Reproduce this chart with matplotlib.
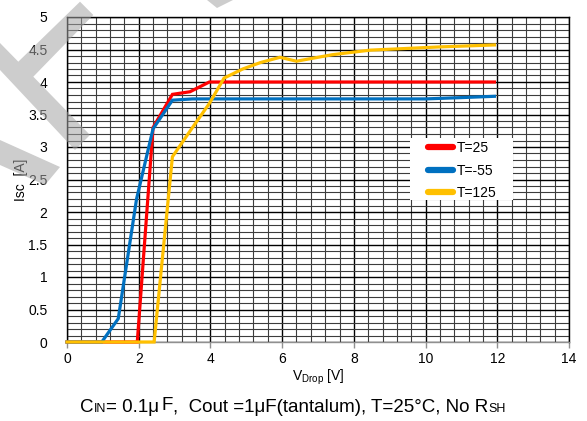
import matplotlib
matplotlib.use("Agg")
import matplotlib.pyplot as plt
from matplotlib.patches import Polygon, Rectangle
import numpy as np

plt.rcParams['font.family'] = ['Liberation Sans', 'DejaVu Sans']

# ---- data ----
x_t25 = [0, 1.96, 2.40, 2.94, 3.43, 3.97, 6.0, 8.0, 10.0, 11.92]
y_t25 = [0, 0, 3.30, 3.81, 3.85, 4.00, 4.00, 4.00, 4.00, 4.00]

x_tm55 = [0, 0.97, 1.43, 1.94, 2.40, 2.94, 3.50, 4.0, 6.0, 8.0, 10.0, 11.0, 11.92]
y_tm55 = [0, 0, 0.36, 2.20, 3.28, 3.72, 3.74, 3.74, 3.74, 3.74, 3.74, 3.76, 3.78]

x_t125 = [0, 2.43, 2.94, 3.45, 3.97, 4.38, 4.90, 5.40, 5.94, 6.40, 7.40, 8.45, 10.40, 11.92]
y_t125 = [0, 0, 2.85, 3.26, 3.67, 4.06, 4.20, 4.30, 4.38, 4.32, 4.42, 4.49, 4.54, 4.57]

series_labels = ["T=25", "T=-55", "T=125"]
series_colors = ["#FF0000", "#0070C0", "#FFC000"]

x_major = np.arange(0, 14.01, 2)
y_major = np.arange(0, 5.01, 0.5)
y_tick_labels = ["0", "0.5", "1", "1.5", "2", "2.5", "3", "3.5", "4", "4.5", "5"]

W, H = 587, 421
fig = plt.figure(figsize=(W / 100, H / 100), dpi=100)
ax = fig.add_axes([67 / W, (H - 342) / H, 502 / W, 325 / H])

ax.set_xlim(0, 14)
ax.set_ylim(0, 5)
ax.set_xticks(x_major)
ax.set_xticks(np.arange(0, 14.01, 0.4), minor=True)
ax.set_yticks(y_major)
ax.set_yticklabels(y_tick_labels)
ax.set_yticks(np.arange(0, 5.001, 0.1), minor=True)

ax.grid(which='minor', color='#3c3c3c', linewidth=0.8)
ax.grid(which='major', color='#000000', linewidth=1.0)
ax.set_axisbelow(True)

ax.tick_params(axis='x', which='major', length=4, color='#909090', width=1,
               labelsize=10, pad=3)
ax.tick_params(axis='x', which='minor', length=0)
ax.tick_params(axis='y', which='both', length=0, labelsize=10, pad=14)

for s in ['left', 'top', 'right']:
    ax.spines[s].set_color('black')
    ax.spines[s].set_linewidth(1.0)
ax.spines['bottom'].set_color('#909090')
ax.spines['bottom'].set_linewidth(1.0)

xs = [x_t25, x_tm55, x_t125]
ys = [y_t25, y_tm55, y_t125]
for xv, yv, lab, col in zip(xs, ys, series_labels, series_colors):
    ax.plot(xv, yv, color=col, linewidth=2.3, label=lab,
            solid_joinstyle='miter', clip_on=False, zorder=3)

# legend: white box plus frameless legend
ax.add_patch(Rectangle((343 / 502, (342 - 200) / 325), 103 / 502, 62 / 325,
                       transform=ax.transAxes, facecolor='white',
                       edgecolor='none', zorder=4))
leg_handles = [plt.Line2D([0], [0], color=c, linewidth=4.5, solid_capstyle='round')
               for c in series_colors]
leg = ax.legend(leg_handles, series_labels, loc='upper left',
                bbox_to_anchor=((428 - 67) / 502, (342 - 141) / 325),
                frameon=False, handlelength=1.8, handletextpad=0.3,
                labelspacing=0.62, fontsize=10, borderpad=0, borderaxespad=0)
leg.set_zorder(5)

ax.set_ylabel("Isc  [A]", fontsize=10)
ax.yaxis.set_label_coords(-(67 - 28) / 502, 0.5)
ax.set_xlabel(r"V$_{\mathregular{Drop}}$ [V]", fontsize=10)
ax.xaxis.set_label_coords(0.5, -(368 - 342) / 325)

# caption with small-size subscripts (pieces: text, size, raise px, gap px after)
pieces = [("C", 13.5, 0, 0), ("IN", 9, 0, 0), ("= 0.1\u03bc", 13.5, 0, 3),
          ("F", 13.5, 2, 0),
          (",  Cout =1\u03bcF(tantalum), T=25\u00b0C, No R", 13.5, 0, 0),
          ("SH", 9, 0, 0)]
fig.canvas.draw()
renderer = fig.canvas.get_renderer()
x_px = 80
y_base_px = 412
for txt, fs, up, gap in pieces:
    tt = fig.text(x_px / W, 1 - (y_base_px - up) / H, txt, fontsize=fs,
                  ha='left', va='baseline')
    bb = tt.get_window_extent(renderer=renderer)
    x_px += bb.width + gap

# faint diagonal watermark shapes
def px_poly(pts):
    return [(x / W, 1 - y / H) for x, y in pts]

wm_shapes = [
    [(80, 1.7), (93.3, 15), (33.3, 76.7), (90, 135), (75, 150), (0, 70), (0, 43), (18.3, 61.7)],
    [(0, 140), (60, 167), (45, 185), (0, 165)],
    [(207, 0), (233, 0), (217, 8)],
]
for pts in wm_shapes:
    fig.add_artist(Polygon(px_poly(pts), closed=True, transform=fig.transFigure,
                           facecolor='#a4a4a4', edgecolor='none', alpha=0.55,
                           zorder=10))

fig.savefig("out.png", dpi=100)
